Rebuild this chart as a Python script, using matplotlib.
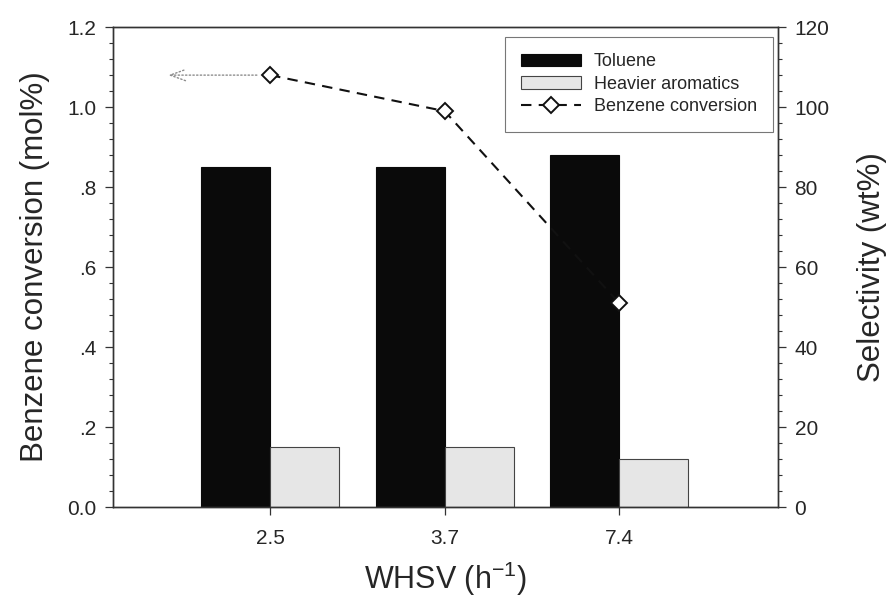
import numpy as np
import matplotlib
matplotlib.use("Agg")
import matplotlib.pyplot as plt
from matplotlib.ticker import MultipleLocator, FuncFormatter

plt.rcParams["font.family"] = ["Liberation Sans", "DejaVu Sans"]
plt.rcParams["mathtext.default"] = "regular"

# 数据
whsv = ["2.5", "3.7", "7.4"]
toluene = [85, 85, 88]            # wt%
heavier = [15, 15, 12]            # wt%
benzene_conv = [1.08, 0.99, 0.51]  # mol%

TXT = "#262626"

fig = plt.figure(figsize=(8.88, 6.03), dpi=100)
ax = fig.add_axes([0.1273, 0.1592, 0.876 - 0.1273, 0.955 - 0.1592])
ax2 = ax.twinx()

x = np.arange(len(whsv))
w = 0.395
ax2.bar(x - w / 2, toluene, width=w, color="#0a0a0a", edgecolor="#0a0a0a",
        linewidth=0.8, label="Toluene", zorder=2)
ax2.bar(x + w / 2, heavier, width=w, color="#e6e6e6", edgecolor="#444444",
        linewidth=0.8, label="Heavier aromatics", zorder=2)

# 苯转化率曲线画在左轴，但要位于柱子之上
ax.set_zorder(ax2.get_zorder() + 1)
ax.patch.set_visible(False)
ax.plot(x, benzene_conv, linestyle=(0, (5, 3.5)), color="#111111", linewidth=1.5,
        marker="D", markersize=8.5, markerfacecolor="white",
        markeredgecolor="#111111", markeredgewidth=1.4, label="Benzene conversion")

# 指向左轴的箭头
ax.annotate("", xy=(-0.6, benzene_conv[0]), xytext=(x[0] - 0.06, benzene_conv[0]),
            arrowprops=dict(arrowstyle="->,head_length=1.1,head_width=0.4",
                            color="#8c8c8c", linestyle=":", linewidth=1.0))

ax.set_xlim(-0.9, 2.91)
ax.set_ylim(0, 1.2)
ax2.set_ylim(0, 120)

ax.set_xticks(x)
ax.set_xticklabels(whsv)
ax.yaxis.set_major_locator(MultipleLocator(0.2))
ax.yaxis.set_minor_locator(MultipleLocator(0.04))


def _fmt(v, pos):
    s = f"{v:.1f}"
    if 0 < v < 1:
        s = s[1:]
    return s


ax.yaxis.set_major_formatter(FuncFormatter(_fmt))
ax2.yaxis.set_major_locator(MultipleLocator(20))
ax2.yaxis.set_minor_locator(MultipleLocator(4))

for a in (ax, ax2):
    a.tick_params(axis="both", which="major", direction="out", length=6,
                  width=0.9, labelsize=15, colors="#333333", labelcolor=TXT, pad=6)
    a.tick_params(axis="both", which="minor", direction="out", length=3,
                  width=0.8, colors="#333333")
    for sp in a.spines.values():
        sp.set_color("#333333")
        sp.set_linewidth(1.0)
ax.tick_params(axis="x", which="major", pad=10)

ax.set_xlabel("WHSV (h$^{-1}$)", fontsize=22, color=TXT, labelpad=8)
ax.set_ylabel("Benzene conversion (mol%)", fontsize=22.5, color=TXT, labelpad=12)
ax2.set_ylabel("Selectivity (wt%)", fontsize=22.5, color=TXT, labelpad=20)

h2, l2 = ax2.get_legend_handles_labels()
h1, l1 = ax.get_legend_handles_labels()
leg = ax.legend(h2 + h1, l2 + l1, loc="upper right", fontsize=13,
                frameon=True, fancybox=False, edgecolor="#555555",
                borderpad=0.9, borderaxespad=0, handlelength=3.3,
                handleheight=0.7, handletextpad=0.7, labelspacing=0.3,
                bbox_to_anchor=(0.9925, 0.979))
leg.get_frame().set_linewidth(0.8)
for t in leg.get_texts():
    t.set_color(TXT)

fig.savefig("out.png", dpi=100)
